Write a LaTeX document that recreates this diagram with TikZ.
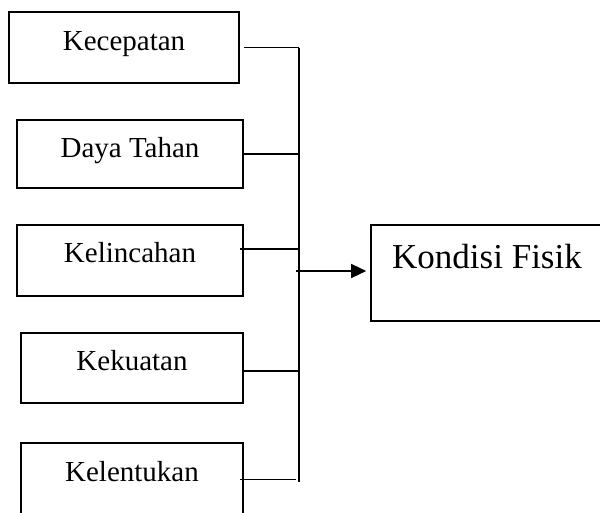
\documentclass[tikz,border=0pt]{standalone}
\usepackage{fontspec}
\setmainfont{Liberation Serif}
\usetikzlibrary{arrows.meta}
\begin{document}
\begin{tikzpicture}[x=1pt,y=-1pt,
  box/.style={draw,line width=1.6pt,inner sep=0pt},
  lbl/.style={anchor=base,inner sep=0pt,font=\fontsize{29}{34}\selectfont},
  big/.style={anchor=base west,inner sep=0pt,font=\fontsize{35}{42}\selectfont},
  conn/.style={line width=1.4pt}]
\useasboundingbox (0,0) rectangle (600,512);
\clip (0,0) rectangle (600,512);
% boxes
\node[box,minimum width=230pt,minimum height=71pt] (b1) at (124,47.5) {};
\node[box,minimum width=226pt,minimum height=68pt] (b2) at (130,154) {};
\node[box,minimum width=226pt,minimum height=71pt] (b3) at (130,260.5) {};
\node[box,minimum width=222pt,minimum height=70pt] (b4) at (132,368) {};
\node[box,minimum width=222pt,minimum height=73pt] (b5) at (132,479.5) {};
\node[box,minimum width=239pt,minimum height=96pt] (kf) at (490.5,273) {};
% texts
\node[lbl] (t1) at (124,50) {Kecepatan};
\node[lbl] (t2) at (130,157) {Daya Tahan};
\node[lbl] (t3) at (130,262) {Kelincahan};
\node[lbl] (t4) at (132,370) {Kekuatan};
\node[lbl] (t5) at (132,481) {Kelentukan};
\node[big] (tk) at (392,268) {Kondisi Fisik};
% bus
\coordinate (bt) at (299,47.5);
\coordinate (bb) at (299,482);
\coordinate (as) at (296,271);
\draw[conn] (bt) -- (bb);
\draw[conn] ([xshift=4pt]b1.east) -- (b1.east -| bt);
\draw[conn] (b2.east) -- (b2.east -| bt);
\draw[conn] ([xshift=-4pt,yshift=11.5pt]b3.east) -- ([yshift=11.5pt]b3.east -| bt);
\draw[conn] ([yshift=-3pt]b4.east) -- ([yshift=-3pt]b4.east -| bt);
\draw[conn] ([xshift=-4pt]b5.east) -- ([xshift=-3pt]b5.east -| bt);
\draw[conn,-{Triangle[length=15pt,width=14pt]},shorten >=4pt] (as) -- (as -| kf.west);
\end{tikzpicture}
\end{document}
